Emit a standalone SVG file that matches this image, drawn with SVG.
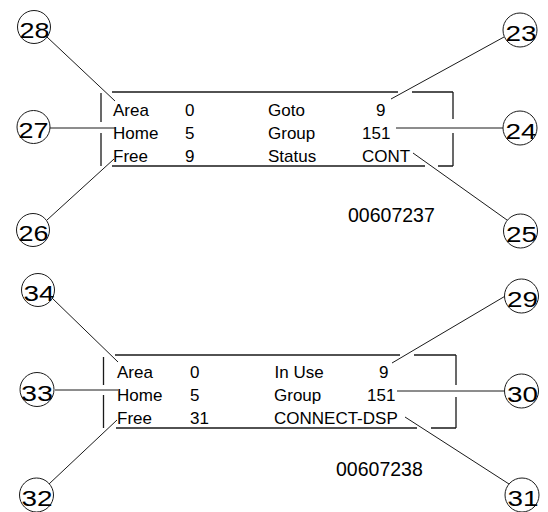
<svg xmlns="http://www.w3.org/2000/svg" width="548" height="512" viewBox="0 0 548 512">
<style>
.bg{fill:#ffffff}
.frame{fill:none;stroke:#1a1a1a;stroke-width:1.3}
.conn{fill:none;stroke:#1a1a1a;stroke-width:1}
.ring{fill:#ffffff;stroke:#1a1a1a;stroke-width:1}
.t{font-family:"Liberation Sans",Arial,sans-serif;font-size:17px;fill:#000}
.num{font-family:"Liberation Sans",Arial,sans-serif;font-size:22px;fill:#000;text-anchor:middle}
.code{font-family:"Liberation Sans",Arial,sans-serif;font-size:19.5px;fill:#000}
</style>
<rect class="bg" x="0" y="0" width="548" height="512"/>

<g id="panel-top">
  <path class="frame" d="M112,92 H398 M412,92 H453 M453,92 V119 M453,133 V166 M112,166 H425 M438,166 H453 M101,93 V122 M101,133 V166"/>
  <text class="t" x="113" y="116">Area</text>
  <text class="t" x="185" y="116">0</text>
  <text class="t" x="268" y="116">Goto</text>
  <text class="t" x="376" y="116">9</text>
  <text class="t" x="113" y="139">Home</text>
  <text class="t" x="185" y="139">5</text>
  <text class="t" x="268" y="139">Group</text>
  <text class="t" x="362" y="139">151</text>
  <text class="t" x="113" y="162">Free</text>
  <text class="t" x="185" y="162">9</text>
  <text class="t" x="268" y="162">Status</text>
  <text class="t" x="362" y="162">CONT</text>
  <text class="code" x="348" y="222">00607237</text>
</g>

<g id="panel-bottom">
  <path class="frame" d="M115,355 H400 M414,355 H456 M456,355 V385 M456,397 V428 M116,428 H417 M431,428 H456 M103.5,357 V385 M103.5,395 V428"/>
  <text class="t" x="117" y="378">Area</text>
  <text class="t" x="190" y="378">0</text>
  <text class="t" x="274.5" y="378">In Use</text>
  <text class="t" x="379" y="378">9</text>
  <text class="t" x="117" y="401">Home</text>
  <text class="t" x="190" y="401">5</text>
  <text class="t" x="274" y="401">Group</text>
  <text class="t" x="367" y="401">151</text>
  <text class="t" x="117" y="424">Free</text>
  <text class="t" x="190" y="424">31</text>
  <text class="t" x="274" y="424">CONNECT-DSP</text>
  <text class="code" x="336" y="476">00607238</text>
</g>

<g id="connectors">
  <path class="conn" d="M47,37 L115,101"/>
  <path class="conn" d="M50,128 L115,128"/>
  <path class="conn" d="M47,220 L114,159"/>
  <path class="conn" d="M504,37 L391,99"/>
  <path class="conn" d="M503,128 L396,128"/>
  <path class="conn" d="M507,220 L413,153"/>
  <path class="conn" d="M52,298 L118,362"/>
  <path class="conn" d="M55,390 L118,390"/>
  <path class="conn" d="M49,484 L117,420"/>
  <path class="conn" d="M507,295 L392,363"/>
  <path class="conn" d="M504,391 L397,391"/>
  <path class="conn" d="M509,484 L405,417"/>
</g>

<g id="callout-28"><circle class="ring" cx="34" cy="27" r="16.5"/><text class="num" x="34.5" y="37.5" textLength="30" lengthAdjust="spacingAndGlyphs">28</text></g>
<g id="callout-27"><circle class="ring" cx="33.5" cy="127" r="16.5"/><text class="num" x="33.5" y="138" textLength="30" lengthAdjust="spacingAndGlyphs">27</text></g>
<g id="callout-26"><circle class="ring" cx="33" cy="230" r="16.5"/><text class="num" x="33.5" y="241" textLength="30" lengthAdjust="spacingAndGlyphs">26</text></g>
<g id="callout-23"><circle class="ring" cx="520" cy="30" r="17"/><text class="num" x="521" y="41" textLength="31" lengthAdjust="spacingAndGlyphs">23</text></g>
<g id="callout-24"><circle class="ring" cx="520" cy="128" r="17"/><text class="num" x="521" y="139" textLength="31" lengthAdjust="spacingAndGlyphs">24</text></g>
<g id="callout-25"><circle class="ring" cx="520.5" cy="231" r="17"/><text class="num" x="521.5" y="242" textLength="31" lengthAdjust="spacingAndGlyphs">25</text></g>
<g id="callout-34"><circle class="ring" cx="38" cy="290" r="16.5"/><text class="num" x="39" y="301" textLength="31" lengthAdjust="spacingAndGlyphs">34</text></g>
<g id="callout-33"><circle class="ring" cx="37" cy="389.5" r="17"/><text class="num" x="37" y="400.5" textLength="32" lengthAdjust="spacingAndGlyphs">33</text></g>
<g id="callout-32"><circle class="ring" cx="36.5" cy="495" r="17"/><text class="num" x="37" y="506" textLength="31" lengthAdjust="spacingAndGlyphs">32</text></g>
<g id="callout-29"><circle class="ring" cx="521.5" cy="296" r="17"/><text class="num" x="522.5" y="307" textLength="31" lengthAdjust="spacingAndGlyphs">29</text></g>
<g id="callout-30"><circle class="ring" cx="521.5" cy="391" r="17"/><text class="num" x="522.5" y="402" textLength="31" lengthAdjust="spacingAndGlyphs">30</text></g>
<g id="callout-31"><circle class="ring" cx="522" cy="495" r="17"/><text class="num" x="523" y="506" textLength="31" lengthAdjust="spacingAndGlyphs">31</text></g>
</svg>
